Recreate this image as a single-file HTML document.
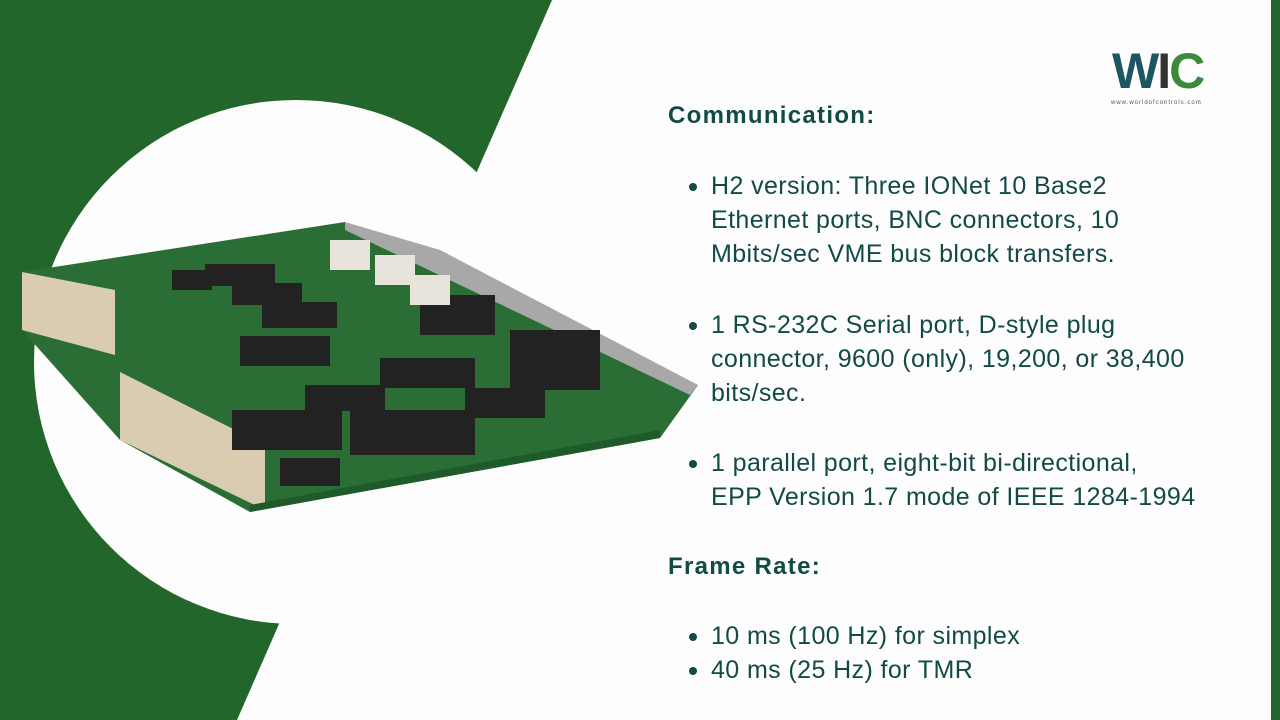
<!DOCTYPE html>
<html><head><meta charset="utf-8"><style>
html,body{margin:0;padding:0}
body{width:1280px;height:720px;position:relative;overflow:hidden;background:#fdfdfd;font-family:"Liberation Sans",sans-serif;color:#124a45}
.t{position:absolute;white-space:nowrap;font-size:25px;letter-spacing:0.4px;line-height:34px}
.h{font-weight:bold;font-size:24px;letter-spacing:1.3px}
.b{position:absolute;width:8px;height:8px;border-radius:50%;background:#124a45}
</style></head><body>
<svg width="1280" height="720" style="position:absolute;left:0;top:0">
<polygon points="0,0 552,0 237,720 0,720" fill="#23662b"/>
<circle cx="296" cy="362" r="262" fill="#fdfdfd"/>
<rect x="1271" y="0" width="9" height="720" fill="#23662b"/>
<polygon points="22,272 345,222 698,385 660,438 250,512 120,440 22,330" fill="#2a6e36"/>
<polygon points="345,222 440,250 698,385 690,395 345,230" fill="#a8a8a8"/>
<polygon points="22,272 115,290 115,355 22,330" fill="#d9ccb0"/>
<polygon points="120,372 265,445 265,510 120,440" fill="#d9ccb0"/>
<polygon points="250,505 660,430 660,438 250,512" fill="#1f5a2a"/>
<g fill="#222">
<rect x="205" y="264" width="70" height="22"/><rect x="232" y="283" width="70" height="22"/>
<rect x="262" y="302" width="75" height="26"/><rect x="240" y="336" width="90" height="30"/>
<rect x="380" y="358" width="95" height="30"/><rect x="305" y="385" width="80" height="26"/>
<rect x="232" y="410" width="110" height="40"/><rect x="350" y="410" width="125" height="45"/>
<rect x="465" y="388" width="80" height="30"/><rect x="280" y="458" width="60" height="28"/>
<rect x="172" y="270" width="40" height="20"/><rect x="510" y="330" width="90" height="60"/>
<rect x="420" y="295" width="75" height="40"/><rect x="550" y="340" width="50" height="40"/>
</g>
<g fill="#e8e4dc"><rect x="330" y="240" width="40" height="30"/><rect x="375" y="255" width="40" height="30"/><rect x="410" y="275" width="40" height="30"/></g>
</svg>
<div class="t h" style="left:668px;top:99px">Communication:</div>
<div class="b" style="left:689px;top:183px"></div>
<div class="t" style="left:711px;top:169px">H2 version: Three IONet 10 Base2<br>Ethernet ports, BNC connectors, 10<br>Mbits/sec VME bus block transfers.</div>
<div class="b" style="left:689px;top:322px"></div>
<div class="t" style="left:711px;top:308px">1 RS-232C Serial port, D-style plug<br>connector, 9600 (only), 19,200, or 38,400<br>bits/sec.</div>
<div class="b" style="left:689px;top:460px"></div>
<div class="t" style="left:711px;top:446px">1 parallel port, eight-bit bi-directional,<br>EPP Version 1.7 mode of IEEE 1284-1994</div>
<div class="t h" style="left:668px;top:550px">Frame Rate:</div>
<div class="b" style="left:689px;top:633px"></div>
<div class="t" style="left:711px;top:619px">10 ms (100 Hz) for simplex</div>
<div class="b" style="left:689px;top:667px"></div>
<div class="t" style="left:711px;top:653px">40 ms (25 Hz) for TMR</div>
<div style="position:absolute;left:1112px;top:44px;font-weight:bold;font-size:50px;line-height:54px;letter-spacing:-2px"><span style="color:#1d5560">W</span><span style="color:#333">I</span><span style="color:#3a8a3a">C</span></div>
<div style="position:absolute;left:1111px;top:100px;font-size:6px;color:#555;letter-spacing:1px">www.worldofcontrols.com</div>
</body></html>
